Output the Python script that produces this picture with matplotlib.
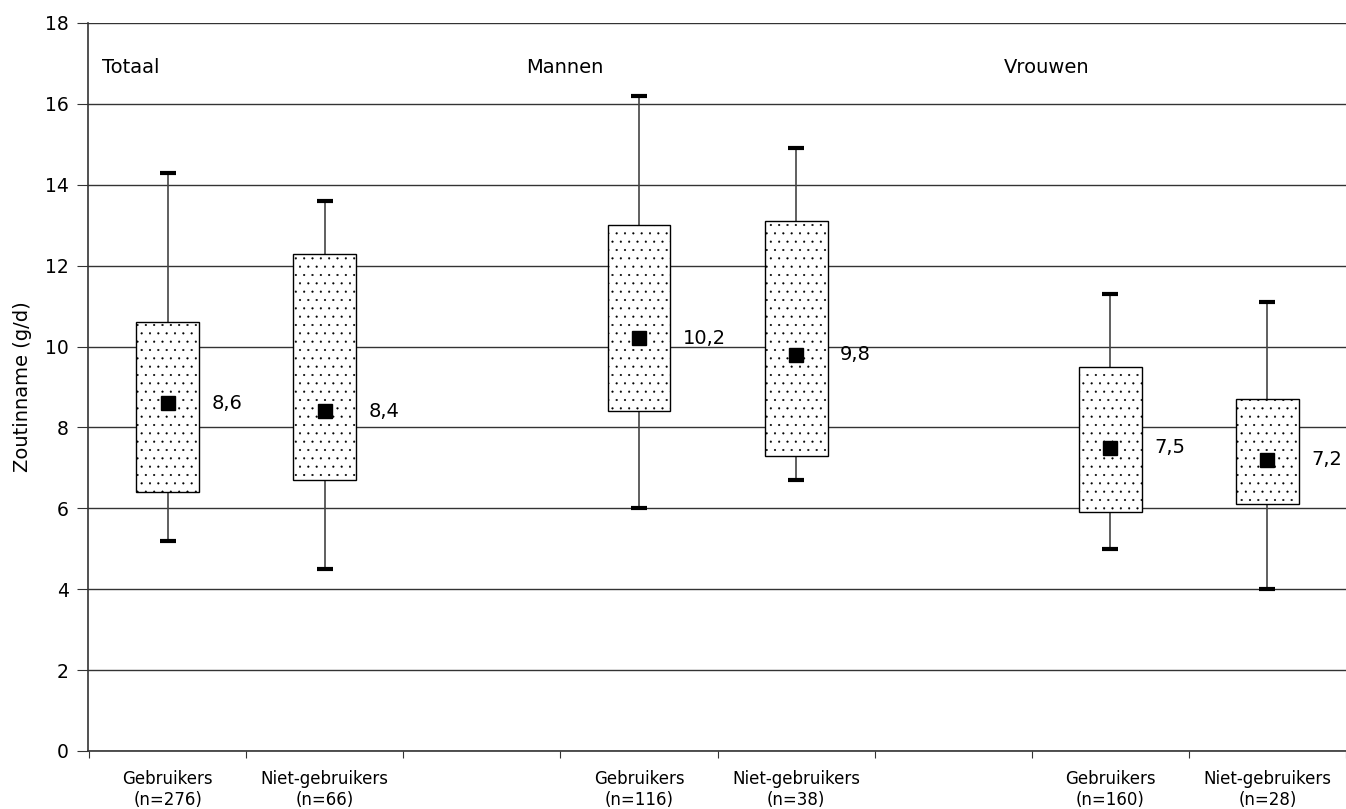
import matplotlib.pyplot as plt
import numpy as np

# data (g/d zout)
groepen = ['Totaal', 'Mannen', 'Vrouwen']
labels = ['Gebruikers\n(n=276)', 'Niet-gebruikers\n(n=66)',
          'Gebruikers\n(n=116)', 'Niet-gebruikers\n(n=38)',
          'Gebruikers\n(n=160)', 'Niet-gebruikers\n(n=28)']
p_min = [5.2, 4.5, 6.0, 6.7, 5.0, 4.0]
p_q1 = [6.4, 6.7, 8.4, 7.3, 5.9, 6.1]
gem = [8.6, 8.4, 10.2, 9.8, 7.5, 7.2]
p_q3 = [10.6, 12.3, 13.0, 13.1, 9.5, 8.7]
p_max = [14.3, 13.6, 16.2, 14.9, 11.3, 11.1]
gem_txt = ['8,6', '8,4', '10,2', '9,8', '7,5', '7,2']

pos = np.array([0, 1, 3, 4, 6, 7])  # lege plekken tussen groepen
groep_x = [-0.42, 2.28, 5.32]

plt.rcParams['hatch.color'] = '#555555'
plt.rcParams['hatch.linewidth'] = 0.3

fig = plt.figure(figsize=(13.46, 8.09), dpi=100)
ax = fig.add_axes([0.0654, 0.0717, 0.9346, 0.8999])

ax.set_ylim(0, 18)
ax.set_xlim(-0.507, 7.47)
ax.set_yticks(np.arange(0, 19, 2))
ax.yaxis.grid(True, color='#333333', lw=1)
ax.set_axisbelow(True)

# whiskers + caps
ax.vlines(pos, p_q3, p_max, color='#444444', lw=1.2, zorder=2)
ax.vlines(pos, p_min, p_q1, color='#444444', lw=1.2, zorder=2)
ax.plot(pos, p_max, ls='none', marker='_', ms=12, mew=3, color='black', zorder=3)
ax.plot(pos, p_min, ls='none', marker='_', ms=12, mew=3, color='black', zorder=3)

# boxes
hoogte = np.array(p_q3) - np.array(p_q1)
ax.bar(pos, hoogte, bottom=p_q1, width=0.4, color='white', edgecolor='black',
       lw=1, hatch='..', zorder=3)

# gemiddelden
ax.plot(pos, gem, ls='none', marker='s', ms=10, color='black', zorder=4)
for x, y, t in zip(pos, gem, gem_txt):
    ax.text(x + 0.28, y, t, fontsize=14, va='center', ha='left')

for x, g in zip(groep_x, groepen):
    ax.text(x, 16.9, g, fontsize=14, va='center', ha='left')

ax.set_xticks(np.arange(-0.5, 8, 1))
ax.set_xticklabels([])
ax.tick_params(axis='x', length=5, color='#333333')
ax.tick_params(axis='y', length=8, pad=6, labelsize=13.5, color='#333333')
for x, l in zip(pos, labels):
    ax.text(x, -0.48, l, fontsize=12, ha='center', va='top', linespacing=1.15)

ax.set_ylabel('Zoutinname (g/d)', fontsize=14, labelpad=9)
for s in ['top', 'right']:
    ax.spines[s].set_visible(False)
for s in ['left', 'bottom']:
    ax.spines[s].set_color('#333333')
    ax.spines[s].set_linewidth(1.2)

fig.savefig('out.png', dpi=100)
